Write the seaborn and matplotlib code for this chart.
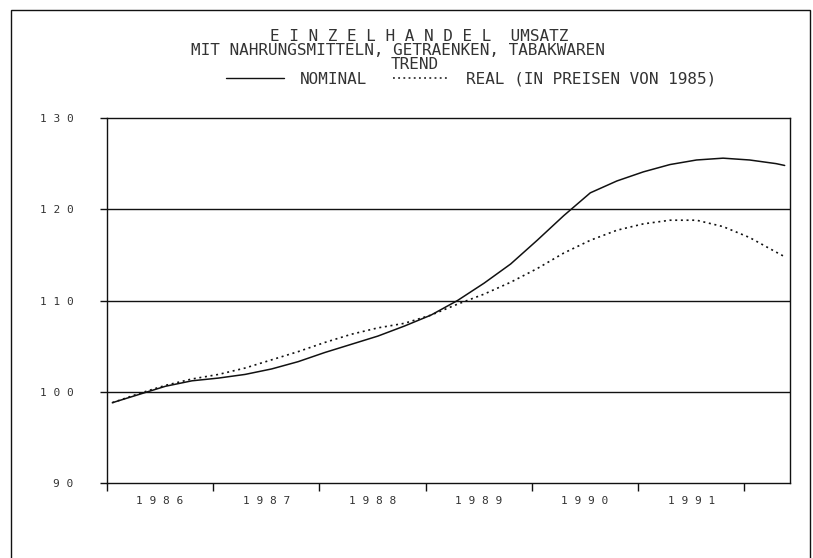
import numpy as np
import pandas as pd
import matplotlib
matplotlib.use('Agg')
import matplotlib.pyplot as plt
from matplotlib.lines import Line2D
from matplotlib.patches import Rectangle
import seaborn as sns

# time axis (decimal years, quarterly readings)
years = [1986.05, 1986.30, 1986.55, 1986.80, 1987.05, 1987.30, 1987.55, 1987.80,
         1988.05, 1988.30, 1988.55, 1988.80, 1989.05, 1989.30, 1989.55, 1989.80,
         1990.05, 1990.30, 1990.55, 1990.80, 1991.05, 1991.30, 1991.55, 1991.80,
         1992.05, 1992.30, 1992.38]
nominal = [98.8, 99.7, 100.6, 101.2, 101.5, 101.9, 102.5, 103.3,
           104.3, 105.2, 106.1, 107.2, 108.4, 110.0, 111.9, 114.0,
           116.6, 119.3, 121.8, 123.1, 124.1, 124.9, 125.4, 125.6,
           125.4, 125.0, 124.8]
real = [98.8, 99.8, 100.7, 101.4, 101.9, 102.6, 103.5, 104.4,
        105.4, 106.3, 107.0, 107.5, 108.4, 109.6, 110.7, 112.0,
        113.5, 115.2, 116.6, 117.7, 118.4, 118.8, 118.8, 118.1,
        116.9, 115.3, 114.8]
year_labels = ['1 9 8 6', '1 9 8 7', '1 9 8 8', '1 9 8 9', '1 9 9 0', '1 9 9 1']
y_ticks = [90, 100, 110, 120, 130]
y_labels = ['9 0', '1 0 0', '1 1 0', '1 2 0', '1 3 0']

df = pd.DataFrame({'Jahr': years, 'Nominal': nominal, 'Real': real})

sns.set_style('white')
plt.rcParams['font.family'] = ['DejaVu Sans Mono', 'DejaVu Sans']

fig = plt.figure(figsize=(8.13, 5.58), dpi=100)
ax = fig.add_axes([0.1316, 0.1344, 0.8401, 0.6541])

ink = '#111111'
sns.lineplot(data=df, x='Jahr', y='Nominal', ax=ax, color=ink, lw=1.1)
sns.lineplot(data=df, x='Jahr', y='Real', ax=ax, color=ink, lw=1.2,
             linestyle=(0, (1.2, 2.2)))

ax.set_xlim(1986.0, 1992.43)
ax.set_ylim(90, 130)
ax.set_xlabel('')
ax.set_ylabel('')

# horizontal grid
for v in y_ticks[1:4]:
    ax.axhline(v, color=ink, lw=1.0, zorder=0)

ax.set_yticks(y_ticks)
ax.set_yticklabels(y_labels, fontsize=8, color='#333333')
ax.tick_params(axis='y', left=True, direction='out', length=5, width=1,
               color=ink, pad=19)

# year boundaries as major ticks, year names centred between them
ax.set_xticks(np.arange(1986, 1993))
ax.set_xticklabels([])
ax.set_xticks(np.arange(1986.5, 1992.0, 1.0), minor=True)
ax.set_xticklabels(year_labels, minor=True, fontsize=8, color='#333333')
ax.tick_params(axis='x', which='major', bottom=True, direction='out', length=6,
               width=1, color=ink)
ax.tick_params(axis='x', which='minor', bottom=True, length=0, pad=9)

for s in ax.spines.values():
    s.set_color(ink)
    s.set_linewidth(1.0)

# titles
tcol = '#333333'
fs = 11.5
fig.text(0.515, 0.935, 'E I N Z E L H A N D E L  UMSATZ', ha='center', va='center',
         fontsize=fs, color=tcol)
fig.text(0.490, 0.909, 'MIT NAHRUNGSMITTELN, GETRAENKEN, TABAKWAREN', ha='center',
         va='center', fontsize=fs, color=tcol)
fig.text(0.510, 0.884, 'TREND', ha='center', va='center', fontsize=fs, color=tcol)

handles = [Line2D([], [], color=ink, lw=1.0),
           Line2D([], [], color=ink, lw=1.1, linestyle=(0, (1.2, 2.2)))]
fig.legend(handles, ['NOMINAL', 'REAL (IN PREISEN VON 1985)'], loc='center',
           bbox_to_anchor=(0.580, 0.858), ncol=2, frameon=False, fontsize=fs,
           handlelength=3.6, columnspacing=1.6, handletextpad=1.0,
           labelcolor=tcol)

# outer page frame (bottom edge runs off the sheet)
fig.patches.append(Rectangle((0.0135, -0.05), 0.9828, 1.032, transform=fig.transFigure,
                             fill=False, lw=1.0, edgecolor=ink))

fig.savefig('out.png', dpi=100)
